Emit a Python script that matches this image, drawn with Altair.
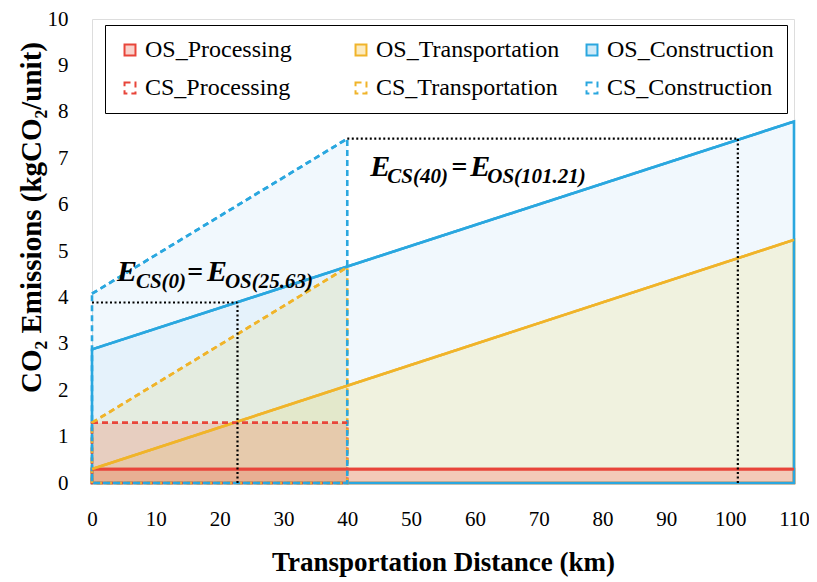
import altair as alt
import pandas as pd

# ---------------- data ----------------
series_names = ["OS_Processing", "OS_Transportation", "OS_Construction",
                "CS_Processing", "CS_Transportation", "CS_Construction"]
line_colors = ["#e8453a", "#f0b42a", "#2aa7df", "#e8453a", "#f0b42a", "#2aa7df"]
symbol_fills = ["#f9d2cc", "#fcebc0", "#cfeaf8", "#ffffff", "#ffffff", "#ffffff"]
dash_styles = [[1, 0], [1, 0], [1, 0], [6, 4], [6, 4], [6, 4]]

# cumulative (stacked) tops, kgCO2/unit
os_distance = [0, 110]
os_processing = [0.30, 0.30]
os_transportation = [0.30, 5.24]
os_construction = [2.88, 7.79]

cs_distance = [0, 40]
cs_processing = [1.30, 1.30]
cs_transportation = [1.30, 4.65]
cs_construction = [4.08, 7.42]

# dotted equivalence guides
guide_x_start = [0, 22.8, 40, 101.2]
guide_x_end = [22.8, 22.8, 101.2, 101.2]
guide_y_start = [3.89, 0, 7.42, 0]
guide_y_end = [3.89, 3.89, 7.42, 7.42]

# annotations
ann_x = [3.9, 43.6]
ann_y = [4.36, 6.61]
ann_cs_sub = ["CS(0)", "CS(40)"]
ann_os_sub = ["OS(25.63)", "OS(101.21)"]

x_ticks = list(range(0, 111, 10))
y_ticks = list(range(0, 11, 1))

SERIF = "Liberation Serif, Times New Roman, serif"

os_df = pd.DataFrame({"x": os_distance, "zero": [0, 0], "proc": os_processing,
                      "trans": os_transportation, "con": os_construction})
cs_df = pd.DataFrame({"x": cs_distance, "zero": [0, 0], "proc": cs_processing,
                      "trans": cs_transportation, "con": cs_construction})

xs = alt.Scale(domain=[0, 110], nice=False, zero=False)
ys = alt.Scale(domain=[0, 10], nice=False)

xenc = alt.X("x:Q", scale=xs,
             axis=alt.Axis(values=x_ticks, title="Transportation Distance (km)", grid=False,
                           ticks=False, domain=False, labelFont=SERIF, labelFontSize=21,
                           labelPadding=25, labelColor="black", labelFlush=False,
                           titleFont=SERIF, titleFontSize=27, titleFontWeight="bold",
                           titleColor="black", titleX=351, titleY=87,
                           titleBaseline="alphabetic"))
yaxis = alt.Axis(values=y_ticks, title="CO₂ Emissions (kgCO₂/unit)", grid=False, ticks=False,
                 domain=False, labelFont=SERIF, labelFontSize=21, labelPadding=24,
                 labelColor="black", labelFlush=False, titleFont=SERIF, titleFontSize=29,
                 titleFontWeight="bold", titleColor="black", titleX=-52, titleY=198,
                 titleBaseline="alphabetic", titleAngle=-90)


def band(df, top, bottom, color, op, first=False):
    return alt.Chart(df).mark_area(color=color, opacity=op, line=False).encode(
        x=xenc if first else alt.X("x:Q", scale=xs),
        y=alt.Y(f"{top}:Q", scale=ys, axis=yaxis) if first else alt.Y(f"{top}:Q", scale=ys),
        y2=f"{bottom}:Q",
    )


fills = [
    band(os_df, "proc", "zero", "#e07a50", 0.40, first=True),
    band(os_df, "trans", "proc", "#c8d08a", 0.27),
    band(os_df, "con", "trans", "#9fd3f0", 0.15),
    band(cs_df, "proc", "zero", "#d4824e", 0.35),
    band(cs_df, "trans", "proc", "#c8d0a0", 0.30),
    band(cs_df, "con", "trans", "#9fd3f0", 0.15),
]

stroke_scale = alt.Scale(domain=series_names, range=line_colors)
fill_scale = alt.Scale(domain=series_names, range=symbol_fills)
dash_scale = alt.Scale(domain=series_names, range=dash_styles)
legend = alt.Legend(title=None, orient="none", legendX=13, legendY=6, columns=3,
                    direction="horizontal", gridAlign="all", columnPadding=20,
                    rowPadding=14, padding=13, labelLimit=400,
                    symbolType="square", symbolSize=120, symbolStrokeWidth=2,
                    labelFont=SERIF, labelFontSize=24,
                    labelColor="black", labelOffset=3, fillColor="white",
                    strokeColor="black")

LW = 2.6


def outline(df, top, name, dashed):
    d = df.assign(series=name)
    kw = {"strokeDash": [6, 4]} if dashed else {}
    return alt.Chart(d).mark_area(fillOpacity=0, strokeWidth=LW, **kw).encode(
        x=alt.X("x:Q", scale=xs),
        y=alt.Y(f"{top}:Q", scale=ys),
        y2="zero:Q",
        stroke=alt.Stroke("series:N", scale=stroke_scale, legend=legend),
        fill=alt.Fill("series:N", scale=fill_scale, legend=legend),
    )


def topline(df, top, name):
    d = df.assign(series=name)
    return alt.Chart(d).mark_line(strokeWidth=LW).encode(
        x=alt.X("x:Q", scale=xs),
        y=alt.Y(f"{top}:Q", scale=ys),
        stroke=alt.Stroke("series:N", scale=stroke_scale, legend=legend),
        strokeDash=alt.StrokeDash("series:N", scale=dash_scale, legend=legend),
    )


outlines = [
    outline(os_df, "proc", "OS_Processing", False),
    outline(os_df, "trans", "OS_Transportation", False),
    outline(os_df, "con", "OS_Construction", False),
    outline(cs_df, "proc", "CS_Processing", True),
    outline(cs_df, "trans", "CS_Transportation", True),
    outline(cs_df, "con", "CS_Construction", True),
]
toplines = [
    topline(os_df, "proc", "OS_Processing"),
    topline(os_df, "trans", "OS_Transportation"),
    topline(os_df, "con", "OS_Construction"),
    topline(cs_df, "proc", "CS_Processing"),
    topline(cs_df, "trans", "CS_Transportation"),
    topline(cs_df, "con", "CS_Construction"),
]

guide_df = pd.DataFrame({"x": guide_x_start, "x2": guide_x_end,
                         "y": guide_y_start, "y2": guide_y_end})
guides = alt.Chart(guide_df).mark_rule(color="black", strokeWidth=2.2, strokeDash=[2, 2.5]).encode(
    x=alt.X("x:Q", scale=xs), x2="x2:Q", y=alt.Y("y:Q", scale=ys), y2="y2:Q")

ann_df = pd.DataFrame({"x": ann_x, "y": ann_y, "cs": ann_cs_sub, "os": ann_os_sub})
ann_df["E"] = "E"
ann_df["eq"] = "="


def ann_text(field, dx, dy, size):
    layers = []
    for i in range(len(ann_x)):
        layers.append(
            alt.Chart(ann_df.iloc[[i]]).mark_text(
                align="left", baseline="alphabetic", font=SERIF, fontWeight="bold",
                fontStyle="italic", fontSize=size, dx=dx[i], dy=dy, color="black"
            ).encode(x=alt.X("x:Q", scale=xs), y=alt.Y("y:Q", scale=ys), text=field)
        )
    return layers


annotations = []
annotations += ann_text("E:N", [0, 0], 0, 30)
annotations += ann_text("cs:N", [19, 17], 7, 21)
annotations += ann_text("eq:N", [70, 81], 0, 28)
annotations += ann_text("E:N", [90, 100], 0, 30)
annotations += ann_text("os:N", [108, 117], 7, 21)

chart = alt.layer(*fills, *outlines, *toplines, guides, *annotations).properties(
    width=702, height=464,
    autosize=alt.AutoSizeParams(type="none"),
    padding={"left": 84, "top": 11, "right": 15, "bottom": 99},
).configure_view(stroke="black", strokeWidth=1.5).configure_legend(
    strokeWidth=2.5
).configure(background="white")

chart.save("out.html", embed_options={"renderer": "svg", "actions": False})
